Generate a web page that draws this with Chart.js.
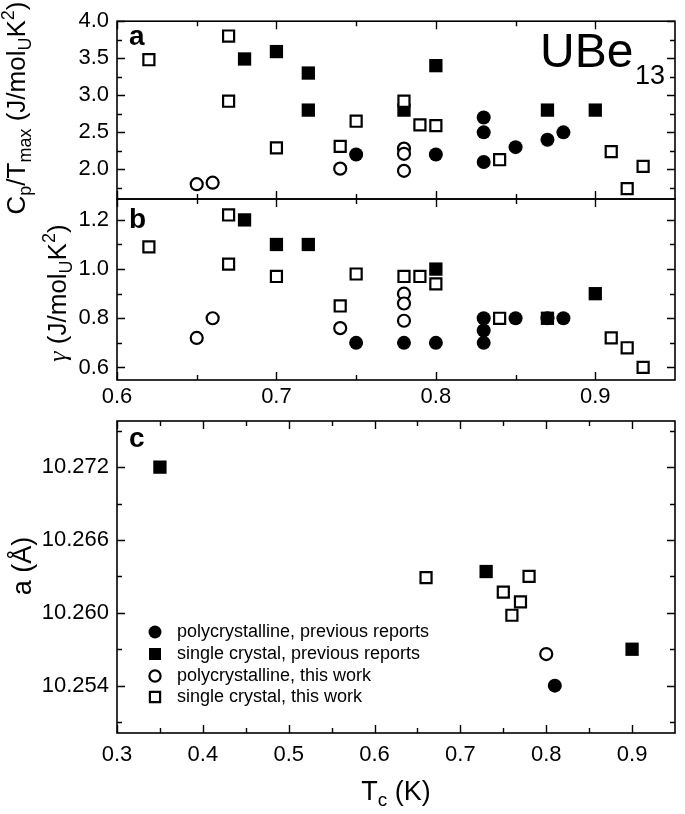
<!DOCTYPE html>
<html>
<head>
<meta charset="utf-8">
<script src="https://cdn.jsdelivr.net/npm/chart.js@4.4.1/dist/chart.umd.min.js"></script>
<style>
  html, body { margin: 0; padding: 0; background: #fff; }
  #wrap { position: relative; width: 685px; height: 814px; }
  #wrap canvas { position: absolute; left: 0; top: 0; }
</style>
</head>
<body>
<div id="wrap">
  <canvas id="panelA" width="685" height="814"></canvas>
  <canvas id="panelB" width="685" height="814"></canvas>
  <canvas id="panelC" width="685" height="814"></canvas>
</div>
<script>
const FONT = '"Liberation Sans", Arial, sans-serif';
Chart.defaults.font.family = FONT;
Chart.defaults.color = '#000';

// panel a: Cp/Tmax vs Tc
const aPolyPrevTc = [0.75, 0.80, 0.83, 0.83, 0.83, 0.85, 0.87, 0.88];
const aPolyPrevVal = [2.20, 2.20, 2.70, 2.50, 2.10, 2.30, 2.40, 2.50];
const aSinglePrevTc = [0.68, 0.70, 0.72, 0.72, 0.78, 0.80, 0.87, 0.90];
const aSinglePrevVal = [3.49, 3.59, 3.30, 2.80, 2.80, 3.40, 2.80, 2.80];
const aPolyThisTc = [0.65, 0.66, 0.74, 0.78, 0.78, 0.78];
const aPolyThisVal = [1.80, 1.82, 2.01, 2.28, 2.21, 1.98];
const aSingleThisTc = [0.62, 0.67, 0.67, 0.70, 0.74, 0.75, 0.78, 0.79, 0.80, 0.84, 0.91, 0.92, 0.93];
const aSingleThisVal = [3.48, 3.80, 2.92, 2.29, 2.31, 2.65, 2.92, 2.60, 2.59, 2.13, 2.24, 1.74, 2.04];

// panel b: gamma vs Tc
const bPolyPrevTc = [0.75, 0.78, 0.80, 0.83, 0.83, 0.83, 0.85, 0.87, 0.88];
const bPolyPrevVal = [0.70, 0.70, 0.70, 0.80, 0.75, 0.70, 0.80, 0.80, 0.80];
const bSinglePrevTc = [0.68, 0.70, 0.72, 0.80, 0.87, 0.90];
const bSinglePrevVal = [1.20, 1.10, 1.10, 1.00, 0.80, 0.90];
const bPolyThisTc = [0.65, 0.66, 0.74, 0.78, 0.78, 0.78];
const bPolyThisVal = [0.72, 0.80, 0.76, 0.90, 0.86, 0.79];
const bSingleThisTc = [0.62, 0.67, 0.67, 0.70, 0.74, 0.75, 0.78, 0.79, 0.80, 0.84, 0.91, 0.92, 0.93];
const bSingleThisVal = [1.09, 1.22, 1.02, 0.97, 0.85, 0.98, 0.97, 0.97, 0.94, 0.80, 0.72, 0.68, 0.60];

// panel c: lattice parameter vs Tc
const cPolyPrevTc = [0.81];
const cPolyPrevVal = [10.2540];
const cSinglePrevTc = [0.35, 0.73, 0.90];
const cSinglePrevVal = [10.2720, 10.2634, 10.2570];
const cPolyThisTc = [0.80];
const cPolyThisVal = [10.2566];
const cSingleThisTc = [0.66, 0.75, 0.76, 0.77, 0.78];
const cSingleThisVal = [10.2629, 10.2617, 10.2598, 10.2609, 10.2630];

// ticks
const abXMajor = [0.6, 0.7, 0.8, 0.9];
const abXMinor = [0.65, 0.75, 0.85];
const aYMajor = [2.0, 2.5, 3.0, 3.5, 4.0];
const aYMinor = [1.75, 2.25, 2.75, 3.25, 3.75];
const bYMajor = [0.6, 0.8, 1.0, 1.2];
const bYMinor = [0.7, 0.9, 1.1];
const cXMajor = [0.3, 0.4, 0.5, 0.6, 0.7, 0.8, 0.9];
const cXMinor = [0.35, 0.45, 0.55, 0.65, 0.75, 0.85];
const cYMajor = [10.254, 10.260, 10.266, 10.272];
const cYMinor = [10.251, 10.257, 10.263, 10.269, 10.275];

const legendLabels = ['polycrystalline, previous reports', 'single crystal, previous reports',
                      'polycrystalline, this work', 'single crystal, this work'];

function toPoints(xs, ys) {
    return xs.map((x, i) => ({ x: x, y: ys[i] }));
}

// estilos de los 4 tipos de muestra (orden del legend)
const markStyles = [
    { pointStyle: 'circle', pointRadius: 7, pointBackgroundColor: '#000', pointBorderColor: '#000', pointBorderWidth: 0 },
    { pointStyle: 'rect', pointRadius: 9.4, pointBackgroundColor: '#000', pointBorderColor: '#000', pointBorderWidth: 0 },
    { pointStyle: 'circle', pointRadius: 6, pointBackgroundColor: '#fff', pointBorderColor: '#000', pointBorderWidth: 2.2 },
    { pointStyle: 'rect', pointRadius: 7.8, pointBackgroundColor: '#fff', pointBorderColor: '#000', pointBorderWidth: 2.2 }
];

function makeDatasets(groups) {
    // groups en orden del legend; se invierte para que los abiertos queden encima
    const ds = groups.map((g, i) => Object.assign({
        label: legendLabels[i],
        data: toPoints(g[0], g[1]),
        pointHoverRadius: markStyles[i].pointRadius,
        clip: false
    }, markStyles[i]));
    return ds.reverse();
}

function rich(ctx, parts, x, y, size, vertical) {
    ctx.save();
    ctx.translate(x, y);
    if (vertical) ctx.rotate(-Math.PI / 2);
    ctx.fillStyle = '#000';
    ctx.textAlign = 'left';
    ctx.textBaseline = 'alphabetic';
    const fontOf = p => {
        if (p[1] === 'g') return 'italic ' + size + 'px "Liberation Serif", serif';
        if (p[1] === 'sub' || p[1] === 'sup') return Math.round(size * 0.7) + 'px ' + FONT;
        return size + 'px ' + FONT;
    };
    let total = 0;
    parts.forEach(p => { ctx.font = fontOf(p); total += ctx.measureText(p[0]).width; });
    let cx = -total / 2;
    parts.forEach(p => {
        ctx.font = fontOf(p);
        let dy = 0;
        if (p[1] === 'sub') dy = size * 0.24;
        if (p[1] === 'sup') dy = -size * 0.42;
        ctx.fillText(p[0], cx, dy);
        cx += ctx.measureText(p[0]).width;
    });
    ctx.restore();
}

function text(ctx, str, x, y, font, align) {
    ctx.save();
    ctx.font = font;
    ctx.fillStyle = '#000';
    ctx.textAlign = align || 'left';
    ctx.textBaseline = 'alphabetic';
    ctx.fillText(str, x, y);
    ctx.restore();
}

function deco(t, drawText) {
    return {
        id: 'deco',
        afterDraw(chart) {
            const ctx = chart.ctx, a = chart.chartArea;
            const xs = chart.scales.x, ys = chart.scales.y;
            ctx.save();
            ctx.strokeStyle = '#000';
            ctx.lineWidth = 1.4;
            ctx.beginPath();
            const xt = (v, len) => {
                const p = Math.round(xs.getPixelForValue(v)) + 0.5;
                ctx.moveTo(p, a.bottom); ctx.lineTo(p, a.bottom - len);
                ctx.moveTo(p, a.top); ctx.lineTo(p, a.top + len);
            };
            const yt = (v, len) => {
                const p = Math.round(ys.getPixelForValue(v)) + 0.5;
                ctx.moveTo(a.left, p); ctx.lineTo(a.left + len, p);
                ctx.moveTo(a.right, p); ctx.lineTo(a.right - len, p);
            };
            t.xMajor.forEach(v => xt(v, 8));
            t.xMinor.forEach(v => xt(v, 5));
            t.yMajor.forEach(v => yt(v, 8));
            t.yMinor.forEach(v => yt(v, 5));
            ctx.stroke();
            ctx.lineWidth = 1.6;
            ctx.strokeRect(a.left, a.top, a.right - a.left, a.bottom - a.top);
            ctx.restore();
            drawText(ctx, a);
        }
    };
}

function makeChart(id, datasets, o) {
    return new Chart(document.getElementById(id), {
        type: 'scatter',
        data: { datasets: datasets },
        options: {
            responsive: false,
            animation: false,
            events: [],
            layout: { padding: { top: o.top, bottom: o.bottom, left: 0, right: 4 } },
            plugins: { legend: { display: false }, tooltip: { enabled: false } },
            scales: {
                x: {
                    min: o.xMin, max: o.xMax,
                    display: o.xLabels,
                    grid: { display: false, drawTicks: false },
                    border: { display: false },
                    ticks: { font: { size: 22 }, padding: o.xPad, maxRotation: 0, callback: v => v.toFixed(1) },
                    afterBuildTicks: s => { s.ticks = o.xMajor.map(v => ({ value: v })); },
                    afterFit: s => { s.height = o.xHeight; }
                },
                y: {
                    min: o.yMin, max: o.yMax,
                    grid: { display: false, drawTicks: false },
                    border: { display: false },
                    ticks: { font: { size: 22 }, padding: 8, callback: v => v.toFixed(o.yDec) },
                    afterBuildTicks: s => { s.ticks = o.yMajor.map(v => ({ value: v })); },
                    afterFit: s => { s.width = 117; }
                }
            }
        },
        plugins: [deco({ xMajor: o.xMajor, xMinor: o.xMinor, yMajor: o.yMajor, yMinor: o.yMinor }, o.draw)]
    });
}

// panel a
makeChart('panelA', makeDatasets([
    [aPolyPrevTc, aPolyPrevVal], [aSinglePrevTc, aSinglePrevVal],
    [aPolyThisTc, aPolyThisVal], [aSingleThisTc, aSingleThisVal]
]), {
    top: 17, bottom: 615, xMin: 0.6, xMax: 0.95, yMin: 1.6, yMax: 4.0,
    xLabels: false, xPad: 0, xHeight: 0, yDec: 1,
    xMajor: abXMajor, xMinor: abXMinor, yMajor: aYMajor, yMinor: aYMinor,
    draw: (ctx, a) => {
        text(ctx, 'a', 129, 45, 'bold 28px ' + FONT);
        text(ctx, 'UBe', 540, 67, '48px ' + FONT);
        text(ctx, '13', 635, 84, '27px ' + FONT);
        rich(ctx, [['C', ''], ['p', 'sub'], ['/T', ''], ['max', 'sub'], [' (J/mol', ''], ['U', 'sub'], ['K', ''], ['2', 'sup'], [')', '']],
             25, 108, 26, true);
    }
});

// panel b
makeChart('panelB', makeDatasets([
    [bPolyPrevTc, bPolyPrevVal], [bSinglePrevTc, bSinglePrevVal],
    [bPolyThisTc, bPolyThisVal], [bSingleThisTc, bSingleThisVal]
]), {
    top: 199, bottom: 404, xMin: 0.6, xMax: 0.95, yMin: 0.549, yMax: 1.285,
    xLabels: true, xPad: 4, xHeight: 30, yDec: 1,
    xMajor: abXMajor, xMinor: abXMinor, yMajor: bYMajor, yMinor: bYMinor,
    draw: (ctx, a) => {
        text(ctx, 'b', 129, 228, 'bold 28px ' + FONT);
        rich(ctx, [['\u03b3', 'g'], [' (J/mol', ''], ['U', 'sub'], ['K', ''], ['2', 'sup'], [')', '']],
             66, 293, 26, true);
    }
});

// panel c
makeChart('panelC', makeDatasets([
    [cPolyPrevTc, cPolyPrevVal], [cSinglePrevTc, cSinglePrevVal],
    [cPolyThisTc, cPolyThisVal], [cSingleThisTc, cSingleThisVal]
]), {
    top: 421, bottom: 41, xMin: 0.3, xMax: 0.95, yMin: 10.2501, yMax: 10.2758,
    xLabels: true, xPad: 9, xHeight: 40, yDec: 3,
    xMajor: cXMajor, xMinor: cXMinor, yMajor: cYMajor, yMinor: cYMinor,
    draw: (ctx, a) => {
        text(ctx, 'c', 129, 447, 'bold 28px ' + FONT);
        rich(ctx, [['a (\u00c5)', '']], 31, 566, 27, true);
        rich(ctx, [['T', ''], ['c', 'sub'], [' (K)', '']], (a.left + a.right) / 2, 800, 27, false);
        // legend
        const rows = [632, 654, 676, 697];
        rows.forEach((y, i) => {
            const st = markStyles[i];
            ctx.save();
            ctx.fillStyle = st.pointBackgroundColor;
            ctx.strokeStyle = st.pointBorderColor;
            ctx.lineWidth = st.pointBorderWidth;
            Chart.helpers.drawPoint(ctx, {
                pointStyle: st.pointStyle,
                radius: st.pointStyle === 'rect' ? (st.pointBorderWidth ? 7.2 : 8.5) : (st.pointBorderWidth ? 5.6 : 6.5),
                borderWidth: st.pointBorderWidth
            }, 155, y);
            ctx.restore();
            ctx.save();
            ctx.font = '18px ' + FONT;
            ctx.fillStyle = '#000';
            ctx.textBaseline = 'middle';
            ctx.fillText(legendLabels[i], 177, y);
            ctx.restore();
        });
    }
});
</script>
</body>
</html>
